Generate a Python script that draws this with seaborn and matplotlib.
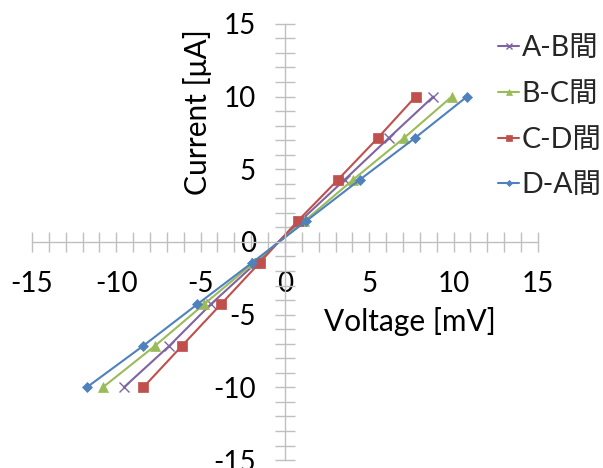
import numpy as np
import pandas as pd
import matplotlib
matplotlib.use("Agg")
import matplotlib.pyplot as plt
import seaborn as sns
from matplotlib.ticker import MultipleLocator

# ==========================================
# Data
# ==========================================
current = [10, 7.14, 4.29, 1.43, -1.43, -4.29, -7.14, -10]

volt_ab = [8.8, 6.15, 3.55, 0.9, -1.7, -4.4, -6.85, -9.55]
volt_bc = [9.9, 7.05, 4.05, 1.15, -1.85, -4.8, -7.7, -10.8]
volt_cd = [7.75, 5.5, 3.15, 0.75, -1.5, -3.8, -6.1, -8.4]
volt_da = [10.8, 7.7, 4.45, 1.25, -1.95, -5.2, -8.4, -11.75]

series_names = ["A-B間", "B-C間", "C-D間", "D-A間"]
series_volts = [volt_ab, volt_bc, volt_cd, volt_da]
colors = ["#8064A2", "#9BBB59", "#C0504D", "#4F81BD"]
markers = ["x", "^", "s", "D"]
msizes = [6.5, 7, 7, 4.8]

tick_vals = [-15, -10, -5, 0, 5, 10, 15]
tick_text = ["-15", "-10", "-5", "0", "5", "10", "15"]

frames = []
for name, v in zip(series_names, series_volts):
    frames.append(pd.DataFrame({"Voltage": v, "Current": current, "Series": name}))
df = pd.concat(frames, ignore_index=True)

# ==========================================
# Style
# ==========================================
sns.set_theme(style="white")
plt.rcParams["font.family"] = ["Lato", "Noto Sans CJK JP", "DejaVu Sans"]

fig = plt.figure(figsize=(6.03, 4.68), dpi=100)
ax = fig.add_axes([0.053, 0.017, 0.839, 0.932])

for name, c, m, ms in zip(series_names, colors, markers, msizes):
    sub = df[df["Series"] == name]
    sns.lineplot(
        data=sub, x="Voltage", y="Current", ax=ax, color=c,
        marker=m, markersize=ms, markeredgecolor=c,
        markeredgewidth=1.0 if m == "x" else 0.5,
        linewidth=1.5, sort=False, label=name, legend=False,
    )

ax.set_xlim(-15, 15)
ax.set_ylim(-15, 15)

# axes crossing at the origin
for side in ["top", "right"]:
    ax.spines[side].set_visible(False)
for side in ["left", "bottom"]:
    ax.spines[side].set_position(("data", 0))
    ax.spines[side].set_color("#BFBFBF")
    ax.spines[side].set_linewidth(1.0)

ax.xaxis.set_minor_locator(MultipleLocator(1))
ax.yaxis.set_minor_locator(MultipleLocator(1))
ax.set_xticks(tick_vals)
ax.set_xticklabels(tick_text)
ax.set_yticks(tick_vals)
ax.set_yticklabels(tick_text)

ax.tick_params(which="both", direction="inout", length=14, width=1.0, color="#BFBFBF")
ax.tick_params(axis="x", which="major", pad=14, labelsize=20, labelcolor="black")
ax.tick_params(axis="y", which="major", pad=14, labelsize=20, labelcolor="black")
ax.tick_params(which="both", bottom=True, left=True)

ax.set_xlabel("Voltage [mV]", fontsize=21.5, color="black")
ax.set_ylabel("Current [μA]", fontsize=21.5, color="black")
ax.xaxis.set_label_coords(0.747, 0.35)
ax.yaxis.set_label_coords(0.355, 0.798)

handles, labels = ax.get_legend_handles_labels()
fig.legend(
    handles, labels, loc="upper left", bbox_to_anchor=(0.826, 0.926),
    frameon=False, fontsize=20.5, handlelength=0.75, handletextpad=0.08,
    labelspacing=0.7, markerscale=0.65, borderpad=0, borderaxespad=0,
)

fig.savefig("out.png", dpi=100)
